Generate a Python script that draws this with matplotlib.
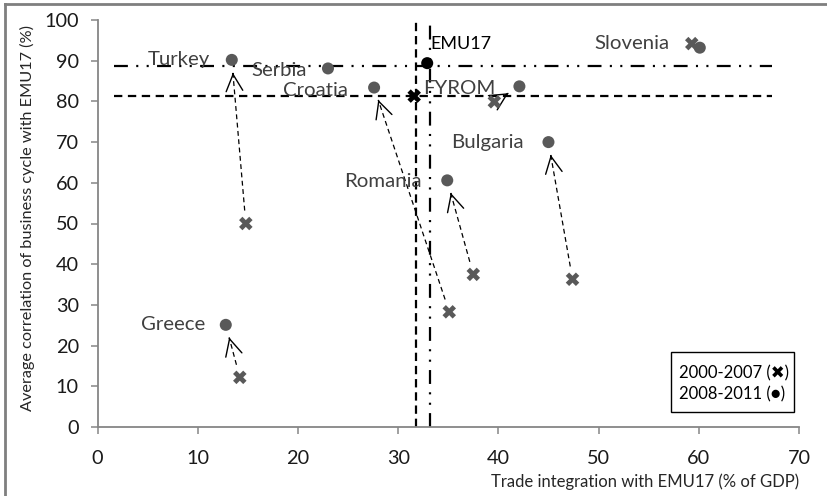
import numpy as np
import matplotlib
matplotlib.use('Agg')
import matplotlib.pyplot as plt
from matplotlib.lines import Line2D
from matplotlib.patches import Rectangle

plt.rcParams['font.family'] = ['Lato', 'DejaVu Sans']
plt.rcParams['lines.scale_dashes'] = False

# data
countries = ['Turkey', 'Serbia', 'Croatia', 'EMU17', 'FYROM',
             'Slovenia', 'Bulgaria', 'Romania', 'Greece']
trade_0811 = [13.4, 23.0, 27.6, 32.9, 42.1, 60.1, 45.0, 34.9, 12.8]
corr_0811 = [90.2, 88.1, 83.4, 89.4, 83.7, 93.2, 70.0, 60.6, 25.1]
trade_0007 = [14.8, np.nan, 35.1, 31.6, 39.6, 59.3, 47.4, 37.5, 14.2]
corr_0007 = [50.0, np.nan, 28.3, 81.3, 79.9, 94.2, 36.3, 37.5, 12.2]
with_arrow = ['Turkey', 'Croatia', 'FYROM', 'Bulgaria', 'Romania', 'Greece']

# EMU17 reference lines
emu_trade_0007, emu_corr_0007 = 31.8, 81.3
emu_trade_0811, emu_corr_0811 = 33.2, 88.8

xticks = np.arange(0, 71, 10)
yticks = np.arange(0, 101, 10)

# label placement (offset points from the 2008-2011 marker)
label_off = {'Turkey': (-16, 0), 'Serbia': (-15.5, -1.5), 'Croatia': (-18.5, -2),
             'EMU17': (2.5, 14), 'FYROM': (-17.5, -1.5), 'Slovenia': (-21.5, 3),
             'Bulgaria': (-18, 0), 'Romania': (-18, -1), 'Greece': (-14.5, 0)}

grey = '#595959'

fig = plt.figure(figsize=(8.27, 4.96), dpi=100)
W, H = 827, 496
ax = fig.add_axes([97.5 / W, 1 - 427 / H, (799 - 97.5) / W, (427 - 20) / H])
ax.set_xlim(0, 70)
ax.set_ylim(0, 100)

dashed = (0, (6, 4))
dashdotdot = (0, (10, 6, 1.5, 6, 1.5, 6))
ax.plot([1.6, 67.3], [emu_corr_0007] * 2, color='black', lw=1.6, linestyle=dashed)
ax.plot([1.6, 67.3], [emu_corr_0811] * 2, color='black', lw=1.6, linestyle=dashdotdot)
ax.plot([emu_trade_0007] * 2, [0, 100.5], color='black', lw=1.6, linestyle=(0, (6, 3.5)), clip_on=False)
ax.plot([emu_trade_0811] * 2, [0, 100.5], color='black', lw=1.6, linestyle=dashdotdot, clip_on=False)

cols = ['black' if c == 'EMU17' else grey for c in countries]
ax.scatter(trade_0007, corr_0007, marker='X', s=95, c=cols, linewidths=0, zorder=4)
ax.scatter(trade_0811, corr_0811, marker='o', s=75, c=cols, linewidths=0, zorder=4)

# arrows: dashed shaft, solid open head
inv = ax.transData.inverted()
for i, c in enumerate(countries):
    if c not in with_arrow:
        continue
    p0 = ax.transData.transform((trade_0007[i], corr_0007[i]))
    p1 = ax.transData.transform((trade_0811[i], corr_0811[i]))
    d = (p1 - p0) / np.hypot(*(p1 - p0))
    start = p0 + d * 13
    tip = p1 - d * 13
    s_d, t_d, b_d = inv.transform(start), inv.transform(tip), inv.transform(tip - d * 1.0)
    ax.plot([s_d[0], t_d[0]], [s_d[1], t_d[1]], color='black', lw=0.9,
            linestyle=(0, (3.5, 2.5)))
    ax.annotate('', xy=t_d, xytext=b_d,
                arrowprops=dict(arrowstyle='->,head_length=1.0,head_width=0.5',
                                mutation_scale=12, color='black', lw=1.0,
                                shrinkA=0, shrinkB=0))

for i, c in enumerate(countries):
    dx, dy = label_off[c]
    if c == 'EMU17':
        ax.annotate(c, (trade_0811[i], corr_0811[i]), xytext=(dx, dy),
                    textcoords='offset points', ha='left', va='center',
                    fontsize=13, color='black')
    else:
        ax.annotate(c, (trade_0811[i], corr_0811[i]), xytext=(dx, dy),
                    textcoords='offset points', ha='right', va='center',
                    fontsize=14.7, color='#404040')

ax.set_xticks(xticks)
ax.set_yticks(yticks)
for s in ['top', 'right']:
    ax.spines[s].set_visible(False)
for s in ['left', 'bottom']:
    ax.spines[s].set_color('#868686')
    ax.spines[s].set_linewidth(1.3)
ax.tick_params(axis='both', direction='out', length=5, width=1.1, color='#868686',
               labelsize=14.3, labelcolor='#1a1a1a')
ax.tick_params(axis='x', pad=11.5)
ax.tick_params(axis='y', pad=8.5)

ax.set_xlabel('Trade integration with EMU17 (% of GDP)', loc='right',
              fontsize=12, color='#262626', labelpad=5)
ax.set_ylabel('Average correlation of business cycle with EMU17 (%)',
              fontsize=11.7, color='#262626', va='center')
ax.yaxis.set_label_coords((27.5 - 97.5) / (799 - 97.5), (427 - 218.5) / (427 - 20))

# legend box
fig.add_artist(Rectangle((671 / W, 1 - 412 / H), 123 / W, 60 / H, transform=fig.transFigure,
                         fc='white', ec='black', lw=1.0))
fig.text(679 / W, 1 - 383.5 / H, '2000-2007 (\u2716)\n2008-2011 (\u25cf)',
         ha='left', va='center', multialignment='left', fontsize=12, linespacing=1.38,
         family=['Lato', 'DejaVu Sans'])

# outer frame, left and top edges only
fig.add_artist(Line2D([5 / W, 5 / W], [0, 1 - 4 / H], color='#7f7f7f', lw=2,
                      transform=fig.transFigure))
fig.add_artist(Line2D([5 / W, 1], [1 - 4 / H, 1 - 4 / H], color='#7f7f7f', lw=2,
                      transform=fig.transFigure))

fig.savefig('out.png', dpi=100)
